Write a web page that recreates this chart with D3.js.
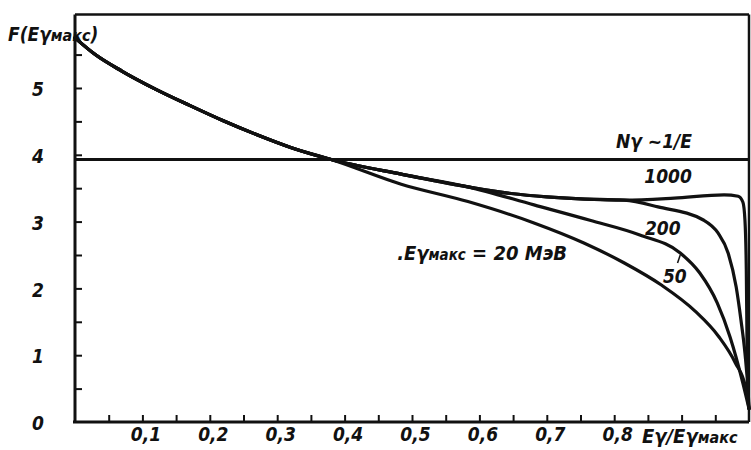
<!DOCTYPE html>
<html>
<head>
<meta charset="utf-8">
<script src="https://cdn.jsdelivr.net/npm/d3@7"></script>
<style>
    body { margin: 0; background: #fff; }
    svg text {
        font-family: "Liberation Sans Narrow", "DejaVu Sans Condensed", sans-serif;
        font-style: italic;
        font-weight: bold;
        fill: #111;
    }
</style>
</head>
<body>
<div id="chart"></div>
<script>
// F(Eγмакс) against Eγ/Eγмакс

// part shared by all curves, up to where they cross the Nγ ~ 1/E line
const commonPart = [[0, 5.75], [0.03, 5.50], [0.07, 5.25], [0.12, 4.98], [0.17, 4.74],
    [0.22, 4.51], [0.27, 4.30], [0.32, 4.11], [0.38, 3.93]];
// upper bundle (1000, 200, 50 together)
const upperPart = [[0.484, 3.71], [0.583, 3.52]];
// 1000 and 200 still together
const flatPart = [[0.647, 3.42], [0.70, 3.37], [0.75, 3.34], [0.815, 3.32]];
const tail1000 = [[0.889, 3.35], [0.963, 3.40], [0.984, 3.38], [0.991, 3.29], [0.994, 3.02],
    [0.996, 2.28], [0.997, 1.27], [0.999, 0.33], [1, 0.2]];
const tail200 = [[0.865, 3.22], [0.933, 3.02], [0.954, 2.83], [0.969, 2.53], [0.981, 2.02],
    [0.988, 1.53], [0.994, 1.03], [0.999, 0.4], [1, 0.2]];
const tail50 = [[0.681, 3.25], [0.764, 3.02], [0.838, 2.80], [0.898, 2.53], [0.927, 2.23],
    [0.953, 1.78], [0.972, 1.27], [0.991, 0.58], [1, 0.2]];
const lowerTail = [[0.484, 3.56], [0.583, 3.30], [0.681, 2.98], [0.755, 2.68], [0.815, 2.38],
    [0.87, 2.05], [0.92, 1.66], [0.955, 1.28], [0.98, 0.88], [0.995, 0.52], [1, 0.2]];

const flatLineValue = 3.93;   // Nγ ~ 1/E

const xTicks = [0.05, 0.1, 0.15, 0.2, 0.25, 0.3, 0.35, 0.4, 0.45, 0.5,
    0.55, 0.6, 0.65, 0.7, 0.75, 0.8, 0.85, 0.9, 0.95];
const xLabelValues = [0.1, 0.2, 0.3, 0.4, 0.5, 0.6, 0.7, 0.8];
const xTickLabels = ["0,1", "0,2", "0,3", "0,4", "0,5", "0,6", "0,7", "0,8"];
const yTicks = [0.5, 1, 1.5, 2, 2.5, 3, 3.5, 4, 4.5, 5, 5.5];
const yLabelValues = [0, 1, 2, 3, 4, 5];
const yTickLabels = ["0", "1", "2", "3", "4", "5"];

const width = 751, height = 450;

const svg = d3.select("#chart").append("svg")
    .attr("width", width)
    .attr("height", height);

const x = d3.scaleLinear().domain([0, 1]).range([75, 749]);
const y = d3.scaleLinear().domain([0, 6.1]).range([422, 14.5]);

const ink = "#111";

function labelFor(values, labels, d) {
    const i = values.findIndex(v => Math.abs(v - d) < 1e-9);
    return i < 0 ? "" : labels[i];
}

// frame
const frame = svg.append("g").attr("stroke", ink).attr("fill", "none");
frame.append("line").attr("x1", x(0)).attr("x2", x(1)).attr("y1", y(6.1)).attr("y2", y(6.1)).attr("stroke-width", 2.5);
frame.append("line").attr("x1", x(1)).attr("x2", x(1)).attr("y1", y(6.1)).attr("y2", y(0)).attr("stroke-width", 2.5);
frame.append("line").attr("x1", x(0)).attr("x2", x(0)).attr("y1", y(6.1)).attr("y2", y(0)).attr("stroke-width", 3);
frame.append("line").attr("x1", x(0) - 2).attr("x2", x(1)).attr("y1", y(0)).attr("y2", y(0)).attr("stroke-width", 3);

// x axis, ticks pointing inward
const xAxis = svg.append("g")
    .attr("transform", `translate(0,${y(0)})`)
    .call(d3.axisBottom(x).tickValues(xTicks).tickSize(-7).tickPadding(6)
        .tickFormat(d => labelFor(xLabelValues, xTickLabels, d)));
xAxis.select(".domain").remove();
xAxis.selectAll(".tick line").attr("stroke", ink).attr("stroke-width", 2);
xAxis.selectAll(".tick text").attr("font-size", 19).attr("dx", 3);

// y axis
const yAxis = svg.append("g")
    .attr("transform", `translate(${x(0)},0)`)
    .call(d3.axisLeft(y).tickValues(yTicks.concat([0])).tickSize(-7)
        .tickFormat(d => labelFor(yLabelValues, yTickLabels, d)));
yAxis.select(".domain").remove();
yAxis.selectAll(".tick line").attr("stroke", ink).attr("stroke-width", 2)
    .filter(d => d === 0).remove();
yAxis.selectAll(".tick text").attr("font-size", 19)
    .attr("text-anchor", "middle").attr("x", -37).attr("dy", "0.4em");

// axis titles
const yTitle = svg.append("text").attr("x", 8).attr("y", 41).attr("font-size", 19);
yTitle.append("tspan").text("F(Eγ");
yTitle.append("tspan").attr("font-size", 16).text("макс");
yTitle.append("tspan").text(")");

const xTitle = svg.append("text").attr("x", 642).attr("y", 443).attr("font-size", 20);
xTitle.append("tspan").text("Eγ/Eγ");
xTitle.append("tspan").attr("font-size", 16).text("макс");

// Nγ ~ 1/E line
svg.append("line")
    .attr("x1", x(0)).attr("x2", x(1))
    .attr("y1", y(flatLineValue)).attr("y2", y(flatLineValue))
    .attr("stroke", ink).attr("stroke-width", 3);

// curves
const series = [
    commonPart.concat(upperPart, flatPart, tail1000),
    commonPart.concat(upperPart, flatPart, tail200),
    commonPart.concat(upperPart, tail50),
    commonPart.concat(lowerTail)
];

const line = d3.line()
    .x(d => x(d[0]))
    .y(d => y(d[1]))
    .curve(d3.curveMonotoneX);

svg.selectAll(".curve")
    .data(series)
    .enter().append("path")
    .attr("class", "curve")
    .attr("fill", "none")
    .attr("stroke", ink)
    .attr("stroke-width", 3.2)
    .attr("stroke-linecap", "round")
    .attr("stroke-linejoin", "round")
    .attr("d", line);

// curve labels
function note(v, f, txt, anchor) {
    return svg.append("text")
        .attr("x", x(v)).attr("y", y(f))
        .attr("font-size", 19)
        .attr("text-anchor", anchor || "middle")
        .text(txt);
}

note(0.859, 4.10, "Nγ ~1/E");
note(0.880, 3.58, "1000");
note(0.872, 2.80, "200");
note(0.890, 2.08, "50");

svg.append("line")
    .attr("x1", x(0.894)).attr("y1", y(2.38))
    .attr("x2", x(0.898)).attr("y2", y(2.5))
    .attr("stroke", ink).attr("stroke-width", 1.5);

const eLabel = svg.append("text")
    .attr("x", x(0.478)).attr("y", y(2.43))
    .attr("font-size", 20);
eLabel.append("tspan").text(".Eγ");
eLabel.append("tspan").attr("font-size", 15).text("макс");
eLabel.append("tspan").text(" = 20 МэВ");
</script>
</body>
</html>
